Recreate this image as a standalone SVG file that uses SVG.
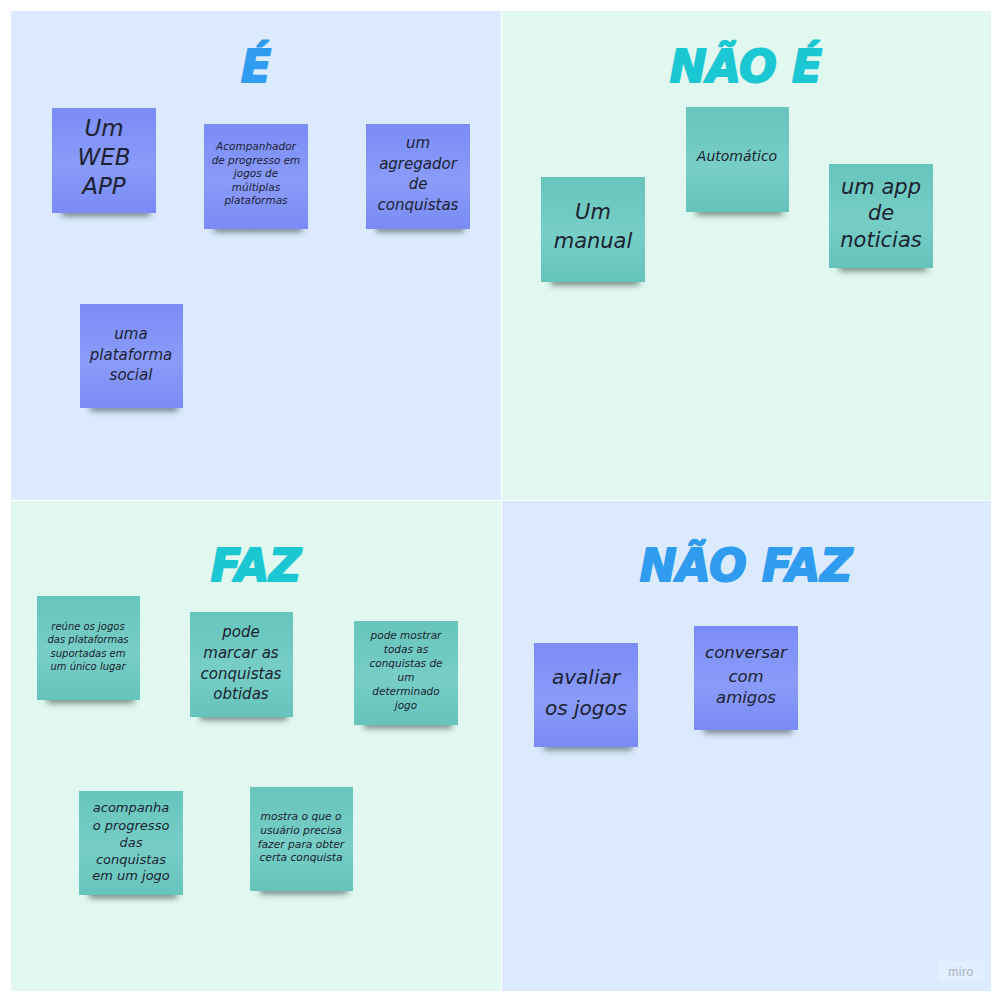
<svg xmlns="http://www.w3.org/2000/svg" width="1000" height="1000" viewBox="0 0 1000 1000">
  <defs>
    <linearGradient id="gBlue" x1="0" y1="0" x2="0" y2="1">
      <stop offset="0" stop-color="#7b8cf7"/>
      <stop offset="0.55" stop-color="#8a9bf9"/>
      <stop offset="1" stop-color="#7a8bf5"/>
    </linearGradient>
    <linearGradient id="gTeal" x1="0" y1="0" x2="0" y2="1">
      <stop offset="0" stop-color="#67c5bc"/>
      <stop offset="0.55" stop-color="#77cec6"/>
      <stop offset="1" stop-color="#66c4bb"/>
    </linearGradient>
    <filter id="soft" x="-20%" y="-100%" width="140%" height="300%">
      <feGaussianBlur stdDeviation="3"/>
    </filter>
  </defs>
  <style>
    .qb { fill: #dbebfd; }
    .qg { fill: #e0f8ef; }
    .title { font-family: "DejaVu Sans", "Liberation Sans", sans-serif; font-weight: bold; font-style: italic; font-size: 44px; text-anchor: middle; stroke-width: 2; stroke-linejoin: round; }
    .tb { fill: #2f9cf0; stroke: #2f9cf0; }
    .tc { fill: #1bc7d3; stroke: #1bc7d3; }
    .shadow { fill: #243434; opacity: 0.6; filter: url(#soft); }
    .blue { fill: url(#gBlue); }
    .teal { fill: url(#gTeal); }
    .note { font-family: "DejaVu Sans", "Noto Sans", sans-serif; font-weight: 200; font-style: italic; fill: #1c2330; text-anchor: middle; }
  </style>

  <!-- board -->
  <rect width="1000" height="1000" fill="#ffffff"/>
  <rect class="qb" x="11" y="11" width="490" height="489"/>
  <rect class="qg" x="502" y="11" width="489" height="489"/>
  <rect class="qg" x="11" y="501" width="490" height="490"/>
  <rect class="qb" x="502" y="501" width="489" height="490"/>

  <!-- headings -->
  <text class="title tb" x="256" y="82">É</text>
  <text class="title tc" x="746" y="82">NÃO É</text>
  <text class="title tc" x="256" y="581">FAZ</text>
  <text class="title tb" x="746" y="581">NÃO FAZ</text>

  <!-- É -->
  <g id="note-web-app">
    <rect class="shadow" x="62" y="208" width="88" height="8"/>
    <rect class="blue" x="52" y="108" width="104" height="105"/>
    <text class="note" font-size="23"><tspan x="104" y="136">Um</tspan><tspan x="104" y="165">WEB</tspan><tspan x="104" y="194">APP</tspan></text>
  </g>
  <g id="note-acompanhador">
    <rect class="shadow" x="214" y="224" width="88" height="8"/>
    <rect class="blue" x="204" y="124" width="104" height="105"/>
    <text class="note" font-size="10.5"><tspan x="256" y="150">Acompanhador</tspan><tspan x="256" y="164">de progresso em</tspan><tspan x="256" y="177">jogos de</tspan><tspan x="256" y="191">múltiplas</tspan><tspan x="256" y="204">plataformas</tspan></text>
  </g>
  <g id="note-agregador">
    <rect class="shadow" x="376" y="224" width="88" height="8"/>
    <rect class="blue" x="366" y="124" width="104" height="105"/>
    <text class="note" font-size="15"><tspan x="418" y="148">um</tspan><tspan x="418" y="169">agregador</tspan><tspan x="418" y="189">de</tspan><tspan x="418" y="210">conquistas</tspan></text>
  </g>
  <g id="note-plataforma-social">
    <rect class="shadow" x="90" y="403" width="88" height="8"/>
    <rect class="blue" x="80" y="304" width="103" height="104"/>
    <text class="note" font-size="15"><tspan x="131" y="339">uma</tspan><tspan x="131" y="360">plataforma</tspan><tspan x="131" y="380">social</tspan></text>
  </g>

  <!-- NÃO É -->
  <g id="note-manual">
    <rect class="shadow" x="551" y="277" width="88" height="8"/>
    <rect class="teal" x="541" y="177" width="104" height="105"/>
    <text class="note" font-size="21"><tspan x="593" y="219">Um</tspan><tspan x="593" y="248">manual</tspan></text>
  </g>
  <g id="note-automatico">
    <rect class="shadow" x="696" y="207" width="87" height="8"/>
    <rect class="teal" x="686" y="107" width="103" height="105"/>
    <text class="note" font-size="14"><tspan x="737" y="161">Automático</tspan></text>
  </g>
  <g id="note-app-noticias">
    <rect class="shadow" x="839" y="263" width="88" height="8"/>
    <rect class="teal" x="829" y="164" width="104" height="104"/>
    <text class="note" font-size="21"><tspan x="881" y="194">um app</tspan><tspan x="881" y="220">de</tspan><tspan x="881" y="247">noticias</tspan></text>
  </g>

  <!-- FAZ -->
  <g id="note-reune">
    <rect class="shadow" x="47" y="695" width="87" height="8"/>
    <rect class="teal" x="37" y="596" width="103" height="104"/>
    <text class="note" font-size="10"><tspan x="88" y="630">reúne os jogos</tspan><tspan x="88" y="643">das plataformas</tspan><tspan x="88" y="657">suportadas em</tspan><tspan x="88" y="670">um único lugar</tspan></text>
  </g>
  <g id="note-marcar">
    <rect class="shadow" x="200" y="712" width="87" height="8"/>
    <rect class="teal" x="190" y="612" width="103" height="105"/>
    <text class="note" font-size="15"><tspan x="241" y="637">pode</tspan><tspan x="241" y="658">marcar as</tspan><tspan x="241" y="679">conquistas</tspan><tspan x="241" y="699">obtidas</tspan></text>
  </g>
  <g id="note-mostrar-todas">
    <rect class="shadow" x="364" y="720" width="88" height="8"/>
    <rect class="teal" x="354" y="621" width="104" height="104"/>
    <text class="note" font-size="10.5"><tspan x="406" y="639">pode mostrar</tspan><tspan x="406" y="653">todas as</tspan><tspan x="406" y="667">conquistas de</tspan><tspan x="406" y="681">um</tspan><tspan x="406" y="695">determinado</tspan><tspan x="406" y="709">jogo</tspan></text>
  </g>
  <g id="note-acompanha">
    <rect class="shadow" x="89" y="890" width="88" height="8"/>
    <rect class="teal" x="79" y="791" width="104" height="104"/>
    <text class="note" font-size="13"><tspan x="131" y="812">acompanha</tspan><tspan x="131" y="830">o progresso</tspan><tspan x="131" y="847">das</tspan><tspan x="131" y="864">conquistas</tspan><tspan x="131" y="880">em um jogo</tspan></text>
  </g>
  <g id="note-mostra-usuario">
    <rect class="shadow" x="260" y="886" width="87" height="8"/>
    <rect class="teal" x="250" y="787" width="103" height="104"/>
    <text class="note" font-size="10.7"><tspan x="301" y="820">mostra o que o</tspan><tspan x="301" y="834">usuário precisa</tspan><tspan x="301" y="848">fazer para obter</tspan><tspan x="301" y="861">certa conquista</tspan></text>
  </g>

  <!-- NÃO FAZ -->
  <g id="note-avaliar">
    <rect class="shadow" x="544" y="742" width="88" height="8"/>
    <rect class="blue" x="534" y="643" width="104" height="104"/>
    <text class="note" font-size="20"><tspan x="586" y="684">avaliar</tspan><tspan x="586" y="715">os jogos</tspan></text>
  </g>
  <g id="note-conversar">
    <rect class="shadow" x="704" y="725" width="88" height="8"/>
    <rect class="blue" x="694" y="626" width="104" height="104"/>
    <text class="note" font-size="16.5"><tspan x="746" y="658">conversar</tspan><tspan x="746" y="682">com</tspan><tspan x="746" y="703">amigos</tspan></text>
  </g>

  <!-- watermark -->
  <rect x="938" y="961" width="46" height="21" fill="#e2eefd"/>
  <text x="961" y="976" font-family="Liberation Sans, sans-serif" font-size="12" fill="#a9b2c2" text-anchor="middle" letter-spacing="0.5">miro</text>
</svg>
